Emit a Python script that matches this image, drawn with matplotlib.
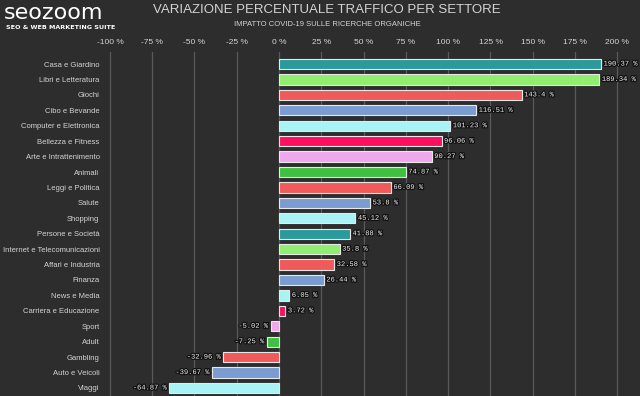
import matplotlib
matplotlib.use("Agg")
import matplotlib.pyplot as plt
import matplotlib.patheffects as pe

NARROW = "Liberation Sans"

categories = [
    "Casa e Giardino", "Libri e Letteratura", "Giochi", "Cibo e Bevande",
    "Computer e Elettronica", "Bellezza e Fitness", "Arte e Intrattenimento",
    "Animali", "Leggi e Politica", "Salute", "Shopping", "Persone e Società",
    "Internet e Telecomunicazioni", "Affari e Industria", "Finanza",
    "News e Media", "Carriera e Educazione", "Sport", "Adult", "Gambling",
    "Auto e Veicoli", "Viaggi",
]
values = [190.37, 189.34, 143.4, 116.51, 101.23, 96.06, 90.27, 74.87, 66.09,
          53.8, 45.12, 41.88, 35.8, 32.58, 26.44, 6.05, 3.72, -5.02, -7.25,
          -32.96, -39.67, -64.87]
bar_colors = ["#2a9a9a", "#90ee70", "#f05a5a", "#7b9cd0", "#a8f4f4", "#ff0f5f",
              "#f0a8ec", "#40c040", "#f05a5a", "#7b9cd0", "#a8f4f4", "#2a9a9a",
              "#90ee70", "#f05a5a", "#7b9cd0", "#a8f4f4", "#ff0f5f", "#f0a8ec",
              "#40c040", "#f05a5a", "#7b9cd0", "#a8f4f4"]
xticks = [-100, -75, -50, -25, 0, 25, 50, 75, 100, 125, 150, 175, 200]

BG = "#2d2d2d"
TXT = "#d4d4d4"

fig = plt.figure(figsize=(6.4, 3.96), dpi=100, facecolor=BG)
ax = fig.add_axes([103 / 640, 0, 527 / 640, 344 / 396], facecolor=BG)

y = list(range(len(categories)))
ax.barh(y, values, height=0.66, color=bar_colors, edgecolor="#e8e8e8",
        linewidth=0.8, zorder=3)

ax.set_xlim(-104.1, 207.5)
ax.set_ylim(21.52, -0.78)
ax.set_xticks(xticks)
ax.set_xticklabels([f"{t} %" for t in xticks], fontsize=6, color=TXT, family=NARROW)
ax.xaxis.tick_top()
ax.tick_params(axis="x", length=0, pad=4)
ax.set_yticks(y)
ax.set_yticklabels(categories, fontsize=5.5, color=TXT, family=NARROW)
ax.tick_params(axis="y", length=0, pad=2.5)
ax.grid(axis="x", color="#5a5a5a", linewidth=0.9, zorder=0)
for s in ax.spines.values():
    s.set_visible(False)

outline = [pe.withStroke(linewidth=1.8, foreground="#111111")]
for yi, v in zip(y, values):
    lab = f"{v:g} %"
    if v >= 0:
        ax.text(v + 1.5, yi, lab, va="center", ha="left", fontsize=5.1,
                color="#f0f0f0", family="Liberation Mono", path_effects=outline, zorder=4)
    else:
        ax.text(v - 1.5, yi, lab, va="center", ha="right", fontsize=5.1,
                color="#f0f0f0", family="Liberation Mono", path_effects=outline, zorder=4)

# titles
fig.text(0.511, 0.975, "VARIAZIONE PERCENTUALE TRAFFICO PER SETTORE", ha="center",
         va="center", fontsize=9.5, color=TXT, family=NARROW)
fig.text(0.511, 0.937, "IMPATTO COVID-19 SULLE RICERCHE ORGANICHE", ha="center",
         va="center", fontsize=5.5, color=TXT, family=NARROW)

# logo
fig.text(0.006, 0.967, "seozoom", ha="left", va="center", fontsize=16,
         color="white", family="DejaVu Sans")
fig.text(0.01, 0.93, "SEO & WEB MARKETING SUITE", ha="left", va="center",
         fontsize=4.6, color="white", weight="bold", family="DejaVu Sans")

fig.savefig("out.png", dpi=100, facecolor=BG)
